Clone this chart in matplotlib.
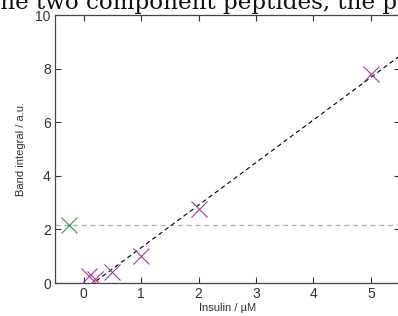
import numpy as np
import matplotlib
matplotlib.use("Agg")
import matplotlib.pyplot as plt

plt.rcParams['font.family'] = ['Liberation Sans', 'DejaVu Sans']

insulin = [0.1, 0.2, 0.5, 1.0, 2.0, 5.0]
band = [0.25, 0.15, 0.4, 1.0, 2.75, 7.8]
ref_x = [-0.25]
ref_y = [2.15]
xticks = [0, 1, 2, 3, 4, 5]
yticks = [0, 2, 4, 6, 8, 10]

fig = plt.figure(figsize=(3.98, 3.16), dpi=100)
ax = fig.add_axes([0.138, 0.1044, 0.866, 0.848])

ax.axhline(ref_y[0], color='#b0b0b0', ls=(0, (4, 3)), lw=0.9, zorder=1)
slope, icpt = np.polyfit(insulin, band, 1)
fx = np.array([0.0, 5.5])
ax.plot(fx, slope * fx + icpt, color='black', ls=(0, (4, 3)), lw=0.8, zorder=2)
ax.plot(insulin, band, ls='none', marker='x', ms=11, mew=0.8, color='#a03ca0', zorder=3)
ax.plot(ref_x, ref_y, ls='none', marker='x', ms=11, mew=0.8, color='#2e9a4e', zorder=3)

ax.set_xlim(-0.5, 5.5)
ax.set_ylim(0, 10)
ax.set_xticks(xticks)
ax.set_yticks(yticks)
ax.tick_params(direction='in', top=True, right=True, labelsize=10, colors='#333333', length=4, width=0.8, pad=3)
for s in ax.spines.values():
    s.set_color('#444444')
    s.set_linewidth(0.9)
ax.set_xlabel('Insulin / µM', fontsize=8, color='#333333', labelpad=1)
ax.set_ylabel('Band integral / a.u.', fontsize=8, color='#333333', labelpad=7)

fig.text(0.998, 1 - 8.5 / 316, 'the two component peptides, the p', family='DejaVu Serif',
         fontsize=16.6, va='baseline', ha='right', color='#111111')

fig.savefig('out.png', dpi=100)
